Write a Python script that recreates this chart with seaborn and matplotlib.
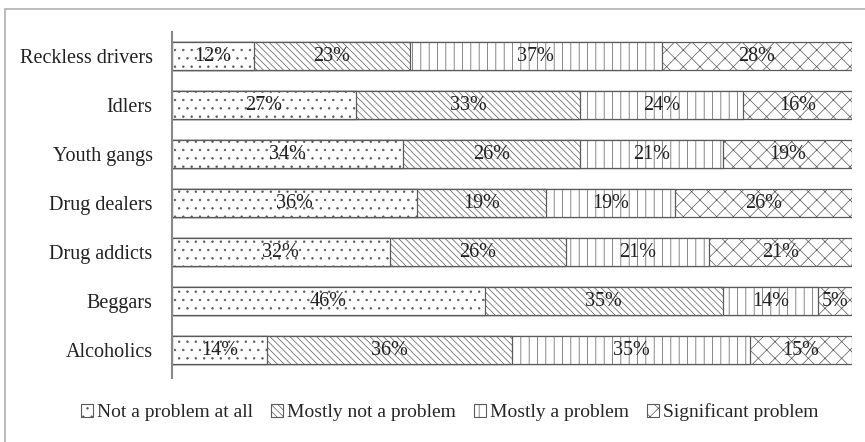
import matplotlib
matplotlib.use("Agg")
import matplotlib.pyplot as plt
import numpy as np
import pandas as pd
import seaborn as sns
from matplotlib.patches import Patch, Rectangle

categories = ["Reckless drivers", "Idlers", "Youth gangs", "Drug dealers",
              "Drug addicts", "Beggars", "Alcoholics"]
levels = ["Not a problem at all", "Mostly not a problem",
          "Mostly a problem", "Significant problem"]
not_problem = [12, 27, 34, 36, 32, 46, 14]
mostly_not = [23, 33, 26, 19, 26, 35, 36]
mostly_problem = [37, 24, 21, 19, 21, 14, 35]
significant = [28, 16, 19, 26, 21, 5, 15]

hatches = ["..", "\\\\\\\\\\", "||", "xx"]
EDGE = "#5a5a5a"

sns.set_theme(style="white")
plt.rcParams["font.family"] = ["Liberation Serif", "DejaVu Serif"]
plt.rcParams["hatch.linewidth"] = 0.5
plt.rcParams["hatch.color"] = "#707070"

df = pd.DataFrame({"category": categories, levels[0]: not_problem,
                   levels[1]: mostly_not, levels[2]: mostly_problem,
                   levels[3]: significant})
values = df[levels].to_numpy(dtype=float)
cum = np.cumsum(values, axis=1)

fig = plt.figure(figsize=(8.65, 4.42), dpi=100)
ax = fig.add_axes([0.199, 0.145, 0.786, 0.783])

# draw widest cumulative bar first so the shorter ones sit on top
for k in range(len(levels) - 1, -1, -1):
    sns.barplot(x=cum[:, k], y=df["category"], orient="h", color="white",
                edgecolor=EDGE, linewidth=0.9, hatch=hatches[k], width=0.57,
                ax=ax)

for i in range(len(categories)):
    for k in range(len(levels)):
        center = cum[i, k] - values[i, k] / 2
        ax.text(center, i, f"{int(values[i, k])}%", ha="center", va="center",
                fontsize=14.5, color="#222222")

ax.set_xlim(0, 100)
ax.set_ylim(6.57, -0.5)
ax.set_xlabel("")
ax.set_ylabel("")
ax.set_xticks([])
ax.tick_params(axis="y", length=0, labelsize=14.5, pad=14, colors="#222222")
for side in ["top", "right", "bottom"]:
    ax.spines[side].set_visible(False)
ax.spines["left"].set_color("#888888")
ax.spines["left"].set_linewidth(1.5)

handles = [Patch(facecolor="white", edgecolor=EDGE, hatch=h, linewidth=0.8)
           for h in hatches]
fig.legend(handles, levels, loc="center", bbox_to_anchor=(0.52, 0.068),
           ncol=4, frameon=False, fontsize=14, handlelength=0.65,
           handleheight=0.65, handletextpad=0.2, columnspacing=0.9)

fig.patches.append(Rectangle((5 / 865, -0.05), 1.1, 1 - 8.5 / 442 + 0.05,
                             transform=fig.transFigure, fill=False,
                             edgecolor="#b0b0b0", linewidth=1.2))

fig.savefig("out.png", dpi=100)
